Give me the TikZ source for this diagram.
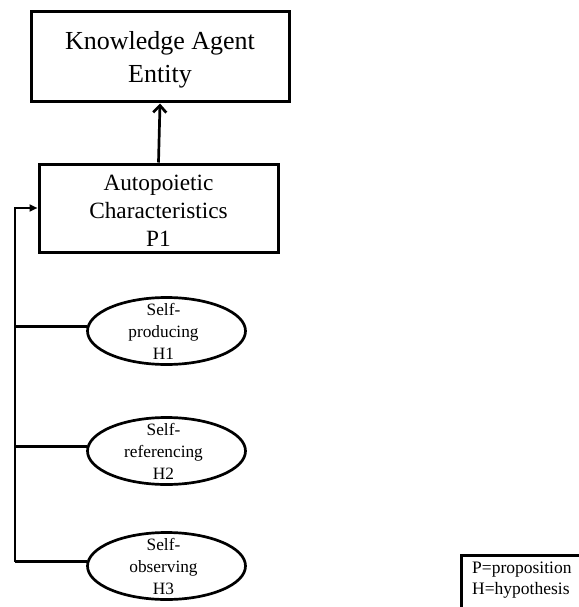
\documentclass[tikz,border=0pt]{standalone}
\usepackage{fontspec}
\setmainfont{Liberation Serif}
\usetikzlibrary{shapes.geometric,arrows.meta}
\begin{document}
\begin{tikzpicture}[x=1pt,y=-1pt,
  box/.style={draw,line width=3pt,inner sep=0pt},
  hyp/.style={draw,ellipse,line width=2.7pt,inner sep=0pt,
    minimum width=158pt,minimum height=67pt},
  boxtext/.style={align=center,inner sep=0pt,yshift=-3pt},
  hyptext/.style={align=center,inner sep=0pt,xshift=-3pt,
    font=\fontsize{17.3}{22}\selectfont},
  link/.style={line width=2.7pt}]
\useasboundingbox (0,0) rectangle (578,607);
% top-level entity and the characteristics box
\node[box,minimum width=258pt,minimum height=90pt] (kae) at (160,57) {};
\node[boxtext,font=\fontsize{26}{33}\selectfont] (kaet) at (kae.center)
  {Knowledge Agent\\Entity};
\node[box,minimum width=239pt,minimum height=88pt] (ac) at (158.5,208) {};
\node[boxtext,font=\fontsize{23.3}{28}\selectfont] (act) at (ac.center)
  {Autopoietic\\Characteristics\\P1};
% hypotheses
\node[hyp] (h1) at (166.5,331) {};
\node[hyptext] (h1t) at (h1.center) {Self-\\producing\\H1};
\node[hyp] (h2) at (166.5,451) {};
\node[hyptext] (h2t) at (h2.center) {Self-\\referencing\\H2};
\node[hyp] (h3) at (166.5,566) {};
\node[hyptext] (h3t) at (h3.center) {Self-\\observing\\H3};
% legend; its frame runs past the right and bottom edges
\node[anchor=north west,minimum width=200pt,minimum height=80pt,inner sep=0pt]
  (leg) at (461,555) {};
\draw[line width=3pt] (leg.south west) -- (leg.north west) -- (leg.north east);
\node[anchor=north west,align=left,inner sep=0pt,font=\fontsize{17.5}{21}\selectfont]
  (legtxt) at (472,562) {P=proposition\\H=hypothesis};
% connectors: a vertical spine feeding the characteristics box
\coordinate (spinex) at (15,0);
\coordinate (spine) at (spinex |- h3.177.5);
\draw[link] (h3.177.5) -- (spine);
\draw[link,-{Triangle[length=8pt,width=7pt]}] (spine) -- (spinex |- 0,208) -- (ac.west |- 0,208);
\draw[link] (h1.177.5) -- (spinex |- h1.177.5);
\draw[link] (h2.177.5) -- (spinex |- h2.177.5);
\draw[link,-{Straight Barb[length=7pt,width=13pt,line width=2.7pt]}] (ac.north) -- (kae.south);
\end{tikzpicture}
\end{document}
